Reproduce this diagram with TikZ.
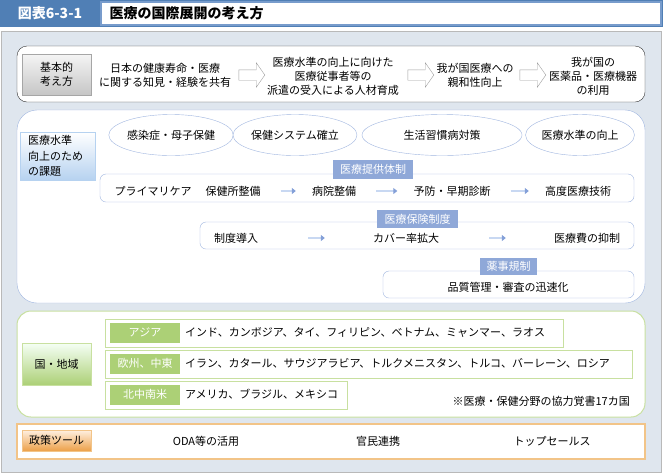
\documentclass[tikz,border=0pt]{standalone}
\usepackage{fontspec}
\setmainfont{Noto Sans CJK JP}
\usepackage{xcolor}
\usetikzlibrary{arrows.meta,calc,positioning,shapes.geometric,shapes.arrows}
\definecolor{titleblue}{RGB}{80,127,181}
\definecolor{titleedge}{RGB}{120,156,204}
\definecolor{panelgray}{RGB}{223,230,238}
\definecolor{edgeblue}{RGB}{160,182,224}
\definecolor{tagblue}{RGB}{143,168,216}
\definecolor{paleblue}{RGB}{182,210,240}
\definecolor{shaftblue}{RGB}{200,216,242}
\definecolor{tipblue}{RGB}{132,160,216}
\definecolor{edgegreen}{RGB}{200,224,160}
\definecolor{taggreen}{RGB}{172,208,118}
\definecolor{edgeorange}{RGB}{242,196,136}
\definecolor{tagorange}{RGB}{236,160,72}

\begin{document}
\begin{tikzpicture}[x=1pt,y=-1pt,font=\fontsize{11}{14}\selectfont,>=Latex,
  txt/.style={inner sep=0pt,align=center},
  headbox/.style={draw=gray!70,minimum width=69pt,minimum height=41pt,inner sep=0pt,align=center},
  blockarrow/.style={single arrow,draw=gray!75,fill=white,inner sep=5pt,
    single arrow head extend=7pt,single arrow tip angle=110,minimum height=26pt},
  goal/.style={ellipse,draw=edgeblue,fill=white,inner sep=0pt,minimum height=41pt},
  tagbox/.style={fill=#1,text=white,inner sep=0pt,minimum height=18pt},
  flow/.style={draw=shaftblue,line width=2.5pt,shorten <=20pt,shorten >=16pt,
    -{Triangle[length=4pt,width=6pt,color=tipblue]}},
  regionrow/.style={draw=edgegreen,fill=white,line width=.8pt}]
\useasboundingbox (0,0) rectangle (663,475);
% title strip
\fill[titleblue] (0,0) rectangle (663,27);
\draw[titleedge,line width=1.2pt,fill=white] (101,2) rectangle (661,25);
\node[text=white,font=\bfseries\fontsize{14}{16}\selectfont] (fignum) at (50,13) {図表6-3-1};
\node[anchor=west,font=\bfseries\fontsize{14}{16}\selectfont] (figtitle) at (106,13) {医療の国際展開の考え方};
% panel
\draw[gray!55,line width=1pt,fill=panelgray] (1,31) rectangle (661,472);

% basic idea
\draw[black!80,fill=white,rounded corners=10pt] (17,46) rectangle (645,102);
\node[headbox,top color=gray!8,bottom color=gray!45] (basic) at (56.5,74.5) {基本的\\考え方};
\node[txt] (b1) at (165,75) {日本の健康寿命・医療\\に関する知見・経験を共有};
\node[blockarrow] (ba1) at (250,75) {};
\node[txt] (b2) at (333,76) {医療水準の向上に向けた\\医療従事者等の\\派遣の受入による人材育成};
\node[blockarrow] (ba2) at (419,75) {};
\node[txt] (b3) at (475,75) {我が国医療への\\親和性向上};
\node[blockarrow] (ba3) at (531,75) {};
\node[txt] (b4) at (593,76) {我が国の\\医薬品・医療機器\\の利用};

% issues for raising the level of care
\draw[edgeblue,fill=white,rounded corners=20pt] (17,110) rectangle (645,303);
\node[draw=paleblue,top color=white,bottom color=paleblue,minimum width=75pt,minimum height=48pt,
  inner sep=0pt] (issue) at (57.5,156) {};
\node[anchor=west,align=left,inner sep=0pt,font=\fontsize{11}{15.5}\selectfont] (issuetxt) at (28,156) {医療水準\\向上のため\\の課題};
\node[goal,minimum width=102pt] (g1) at (171,135) {感染症・母子保健};
\node[goal,minimum width=118pt] (g2) at (295,135) {保健システム確立};
\node[goal,minimum width=160pt] (g3) at (442,135) {生活習慣病対策};
\node[goal,minimum width=97pt] (g4) at (580,135) {医療水準の向上};

% provision
\draw[edgeblue,fill=white,rounded corners=6pt] (100,174) rectangle (634,202);
\node[tagbox=tagblue,minimum width=80pt,minimum height=19pt] (provtag) at (373,169.5) {医療提供体制};
\node[txt] (p1) at (153,191) {プライマリケア};
\node[txt] (p2) at (233,191) {保健所整備};
\node[txt] (p3) at (334,191) {病院整備};
\node[txt] (p4) at (452,191) {予防・早期診断};
\node[txt] (p5) at (578,191) {高度医療技術};
\draw[flow] (p2) -- (p3);
\draw[flow] (p3) -- (p4);
\draw[flow] (p4) -- (p5);

% insurance
\draw[edgeblue,fill=white,rounded corners=6pt] (200,222) rectangle (634,249);
\node[tagbox=tagblue,minimum width=81pt] (instag) at (417.5,219) {医療保険制度};
\node[txt] (i1) at (236,238) {制度導入};
\node[txt] (i2) at (406,238) {カバー率拡大};
\node[txt] (i3) at (587,238) {医療費の抑制};
\draw[flow,shorten <=50pt,shorten >=48pt] (i1) -- (i2);
\draw[flow,shorten <=50pt,shorten >=48pt] (i2) -- (i3);

% pharmaceutical regulation
\draw[edgeblue,fill=white,rounded corners=6pt] (383,271) rectangle (634,298);
\node[tagbox=tagblue,minimum width=57pt,minimum height=17pt] (pharmtag) at (508.5,266.5) {薬事規制};
\node[txt] (ph1) at (508,287) {品質管理・審査の迅速化};

% countries and regions
\draw[edgegreen,line width=1pt,fill=white,rounded corners=14pt] (17,311) rectangle (645,417);
\node[headbox,draw=edgegreen,top color=green!4!white,bottom color=taggreen,minimum height=42pt] (area) at (56.5,364) {国・地域};
\draw[regionrow] (105,319) rectangle (563,347);
\draw[regionrow] (105,350) rectangle (632,378);
\draw[regionrow] (105,381) rectangle (347,409);
\node[tagbox=taggreen,minimum width=70pt,minimum height=20pt] (asia) at (145,332.5) {アジア};
\node[tagbox=taggreen,minimum width=70pt,minimum height=20pt] (euro) at (145,363.5) {欧州、中東};
\node[tagbox=taggreen,minimum width=70pt,minimum height=20pt] (amer) at (145,394.5) {北中南米};
\node[txt,anchor=west] (asialist) at (185,332.5) {インド、カンボジア、タイ、フィリピン、ベトナム、ミャンマー、ラオス};
\node[txt,anchor=west] (eurolist) at (185,363.5) {イラン、カタール、サウジアラビア、トルクメニスタン、トルコ、バーレーン、ロシア};
\node[txt,anchor=west] (amerlist) at (185,394.5) {アメリカ、ブラジル、メキシコ};
\node[txt,anchor=east] (memo) at (630,401) {※医療・保健分野の協力覚書17カ国};

% policy tools
\draw[edgeorange,line width=1.2pt,fill=white] (17,424) rectangle (645,459);
\node[headbox,draw=edgeorange,top color=orange!12!white,bottom color=tagorange,minimum height=21pt] (tools) at (56.5,440.5) {政策ツール};
\node[txt] (t1) at (206,441) {ODA等の活用};
\node[txt] (t2) at (378,441) {官民連携};
\node[txt] (t3) at (552,441) {トップセールス};
\end{tikzpicture}
\end{document}
